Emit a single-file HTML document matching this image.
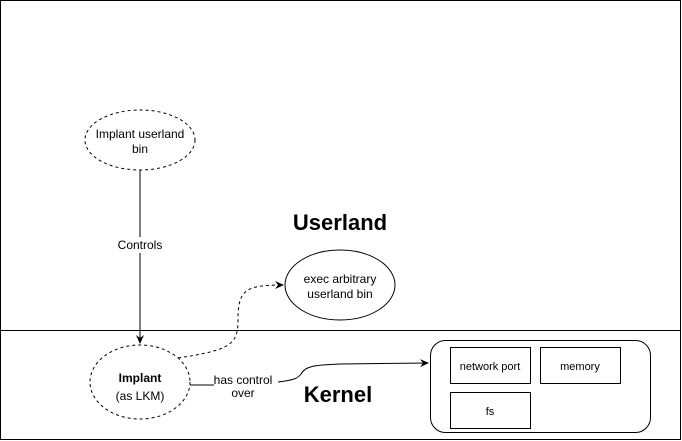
<!DOCTYPE html>
<html><head><style>body{margin:0;background:#fff}svg{display:block;font-family:"Liberation Sans",sans-serif}</style></head>
<body>
<svg width="682" height="441" viewBox="0 0 682 441">
<defs><marker id="a" markerWidth="10" markerHeight="10" refX="8" refY="5" orient="auto" markerUnits="userSpaceOnUse"><path d="M0,1 L9,5 L0,9 L3,5z" fill="#000"/></marker></defs>
<rect x="0.5" y="0.5" width="680" height="439" fill="#fff" stroke="#000"/>
<line x1="0" y1="330.5" x2="681" y2="330.5" stroke="#000"/>
<ellipse cx="140" cy="140" rx="55" ry="30" fill="#fff" stroke="#000" stroke-dasharray="3 3"/>
<text x="140" y="138" font-size="12" text-anchor="middle">Implant userland</text>
<text x="140" y="153" font-size="12" text-anchor="middle">bin</text>
<line x1="140" y1="170" x2="140" y2="343" stroke="#000" marker-end="url(#a)"/>
<rect x="112" y="237" width="56" height="16" fill="#fff"/>
<text x="140" y="249" font-size="12" text-anchor="middle">Controls</text>
<text x="340" y="230" font-size="22" font-weight="bold" text-anchor="middle">Userland</text>
<text x="338" y="402" font-size="22" font-weight="bold" text-anchor="middle">Kernel</text>
<ellipse cx="340" cy="285" rx="55" ry="35" fill="#fff" stroke="#000"/>
<text x="340" y="283" font-size="12" text-anchor="middle">exec arbitrary</text>
<text x="340" y="298" font-size="12" text-anchor="middle">userland bin</text>
<ellipse cx="140" cy="382" rx="50" ry="37" fill="#fff" stroke="#000" stroke-dasharray="3 3"/>
<text x="140" y="382" font-size="12" font-weight="bold" text-anchor="middle">Implant</text>
<text x="140" y="400" font-size="12" text-anchor="middle">(as LKM)</text>
<path d="M178,358 C230,350 238,345 238,320 C238,290 245,285 283,285" fill="none" stroke="#000" stroke-dasharray="3 3" marker-end="url(#a)"/>
<path d="M190,385 L214,385" stroke="#000" fill="none"/>
<path d="M278,382 C295,380 298,378 301,374 C305,366 315,365 340,364 L428,363" stroke="#000" fill="none" marker-end="url(#a)"/>
<text x="243" y="384" font-size="12" text-anchor="middle">has control</text>
<text x="243" y="397" font-size="12" text-anchor="middle">over</text>
<rect x="430.5" y="340.5" width="220" height="92" rx="15" fill="#fff" stroke="#000"/>
<rect x="450.5" y="347.5" width="80" height="36" fill="#fff" stroke="#000"/>
<text x="490" y="370" font-size="11" text-anchor="middle">network port</text>
<rect x="540.5" y="347.5" width="80" height="36" fill="#fff" stroke="#000"/>
<text x="580" y="370" font-size="11" text-anchor="middle">memory</text>
<rect x="450.5" y="392.5" width="80" height="36" fill="#fff" stroke="#000"/>
<text x="490" y="415" font-size="11" text-anchor="middle">fs</text>
</svg>
</body></html>
